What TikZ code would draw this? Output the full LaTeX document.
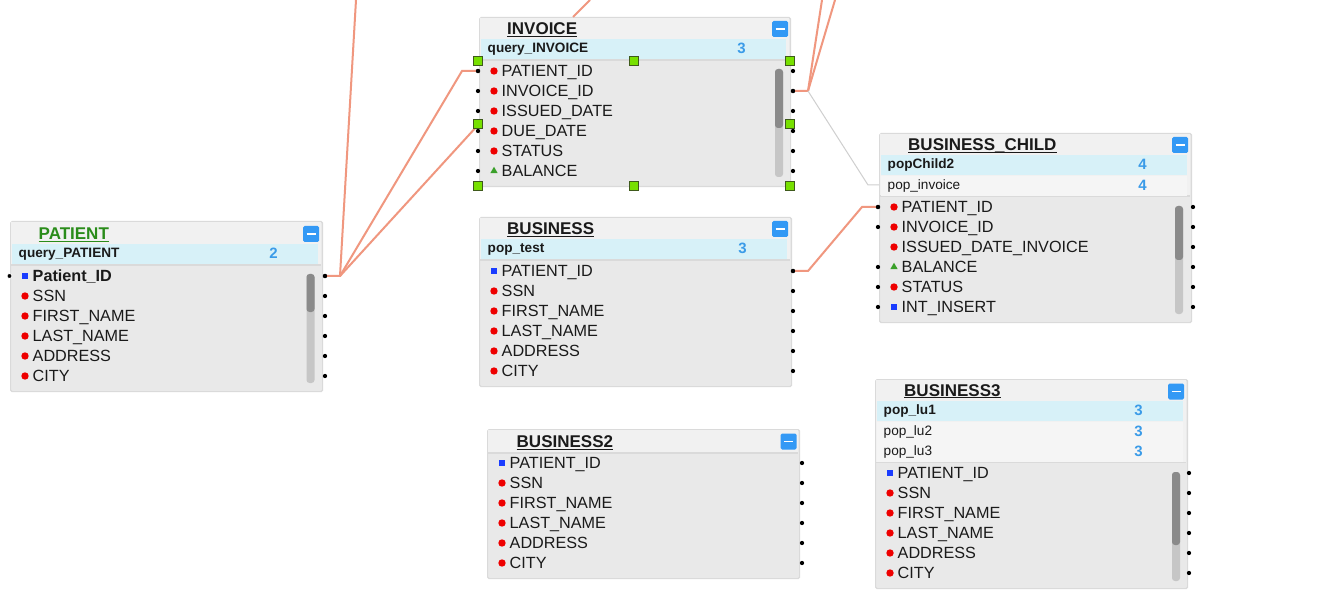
\documentclass[tikz,border=0pt]{standalone}
\usepackage{fontspec}
\setmainfont{Liberation Sans}
\usetikzlibrary{shapes.geometric}
\definecolor{tborder}{HTML}{DADADA}
\definecolor{hdrfill}{HTML}{F1F1F1}
\definecolor{fieldbg}{HTML}{E9E9E9}
\definecolor{qcyan}{HTML}{D7F1F8}
\definecolor{qgray}{HTML}{F5F5F5}
\definecolor{numblue}{HTML}{3A9BE8}
\definecolor{btnblue}{HTML}{3399F5}
\definecolor{sbtrack}{HTML}{C6C6C6}
\definecolor{sbthumb}{HTML}{8A8A8A}
\definecolor{connc}{HTML}{F0977F}
\definecolor{gconnc}{HTML}{CFCFCF}
\definecolor{titlegreen}{HTML}{2A8C1A}
\definecolor{markred}{HTML}{EE0000}
\definecolor{markblue}{HTML}{1A3CFF}
\definecolor{markgreen}{HTML}{3AA02A}
\definecolor{handlefill}{HTML}{77E000}
\definecolor{handledraw}{HTML}{3F5A1C}
\definecolor{txt}{HTML}{1A1A1A}
\tikzset{
 tframe/.style={draw=tborder, line width=1.2pt, fill=fieldbg, rounded corners=1.5pt, inner sep=0pt},
 ttitle/.style={anchor=base west, inner sep=0pt, font=\fontsize{17}{20}\selectfont\bfseries, text=txt},
 qtxt/.style={anchor=base west, inner sep=0pt, font=\fontsize{13.6}{16}\selectfont\bfseries, text=txt},
 qtxtb/.style={anchor=base west, inner sep=0pt, font=\fontsize{13.6}{16}\selectfont, text=txt},
 num/.style={anchor=base, inner sep=0pt, font=\fontsize{15}{18}\selectfont\bfseries, text=numblue},
 fieldtxt/.style={anchor=base west, inner sep=0pt, font=\fontsize{16.2}{19}\selectfont, text=txt},
 mkc/.style={circle, fill=markred, inner sep=0pt, minimum size=7.4pt},
 mks/.style={rectangle, fill=markblue, inner sep=0pt, minimum size=5.8pt},
 mkt/.style={regular polygon, regular polygon sides=3, fill=markgreen, inner sep=0pt, minimum size=8.5pt},
 port/.style={circle, fill=black, inner sep=0pt, minimum size=4.3pt},
 handle/.style={rectangle, fill=handlefill, draw=handledraw, line width=1.1pt, inner sep=0pt, minimum size=8.5pt},
 btn/.style={rectangle, fill=btnblue, inner sep=0pt, minimum size=16pt, rounded corners=1.5pt},
 conn/.style={draw=connc, line width=2pt},
 gconn/.style={draw=gconnc, line width=1pt},
}
% frame: name, l, t, r, b, title-row bottom, fields top
\newcommand\tframe[7]{%
  \node[tframe, anchor=north west, minimum width={#4-#2}, minimum height={#5-#3}] (#1) at (#2,#3) {};
  \fill[hdrfill] ({#2+0.6},{#3+0.6}) rectangle ({#4-0.6},{#7-1.5});
  \fill[tborder] ({#2+0.6},{#7-1.5}) rectangle ({#4-0.6},{#7});
}
% title: name, x, baseline, text, color
\newcommand\ttl[5]{%
  \node[ttitle, text=#5] (#1) at (#2,#3) {#4};
  \draw[#5, line width=1.1pt] ([yshift=-1.6pt]#1.base west) -- ([yshift=-1.6pt]#1.base east);
}
% query row: name, l, r, top, text, number, style, fill
\newcommand\qrow[8]{%
  \fill[#8] ({#2+2},#4) rectangle ({#3-4},{#4+20});
  \node[#7] (#1-t) at ({#2+8.5},{#4+13.8}) {#5};
  \node[num] (#1-n) at ({#3-48.5},{#4+14.6}) {#6};
}
\newcommand\fieldlist[4]{%
  \foreach \mk/\ft [count=\i] in {#4}{%
    \node[mk\mk] (#1-m\i) at ({#2+15},{#3+20*(\i-1)}) {};
    \node[fieldtxt] (#1-f\i) at ({#2+22.5},{#3+20*(\i-1)+5.8}) {\ft};
  }}
\newcommand\portlist[4]{%
  \foreach \i in {#4}{\node[port] (#1\i) at (#2,{#3+20*(\i-1)}) {};}}
\newcommand\scrollbar[5]{%
  \fill[sbtrack, rounded corners=3pt] (#1,#3) rectangle (#2,#4);
  \fill[sbthumb, rounded corners=3pt] (#1,#3) rectangle (#2,#5);}
\newcommand\minusbtn[3]{%
  \node[btn] (#1) at (#2,#3) {};
  \draw[white, line width=1.6pt] ({#2-4.5},#3) -- ({#2+4.5},#3);}
\begin{document}
\begin{tikzpicture}[x=1pt,y=-1pt]
\useasboundingbox[fill=white] (0,0) rectangle (1334,604);

% ---------------- PATIENT
\tframe{patient}{10}{221}{322}{391}{244}{266}
\qrow{patientq}{10}{322}{244}{query\_PATIENT}{2}{qtxt}{qcyan}
\ttl{patientT}{38.5}{240}{PATIENT}{titlegreen}
\minusbtn{patientB}{311}{234}
\scrollbar{306.5}{314.5}{274}{383}{312}
\fieldlist{patient}{10}{276}{s/{\bfseries Patient\_ID},c/SSN,c/FIRST\_NAME,c/LAST\_NAME,c/ADDRESS,c/CITY}
\portlist{patient-r}{325}{276}{1,2,3,4,5,6}
\node[port, draw=white, line width=0.8pt, minimum size=5pt] (patient-l1) at (9.5,276) {};

% ---------------- INVOICE
\tframe{invoice}{479}{17}{790}{186}{39}{61}
\qrow{invoiceq}{479}{790}{39}{query\_INVOICE}{3}{qtxt}{qcyan}
\ttl{invoiceT}{507}{34.5}{INVOICE}{txt}
\minusbtn{invoiceB}{780}{29}
\scrollbar{775}{783}{69}{177}{128}
\fieldlist{invoice}{479}{71}{c/PATIENT\_ID,c/INVOICE\_ID,c/ISSUED\_DATE,c/DUE\_DATE,c/STATUS,t/BALANCE}
\portlist{invoice-r}{793}{71}{1,2,3,4,5,6}
\portlist{invoice-l}{478}{71}{1,2,3,4,5,6}

% ---------------- BUSINESS
\tframe{business}{479}{217}{791}{386}{239}{261}
\qrow{businessq}{479}{791}{239}{pop\_test}{3}{qtxt}{qcyan}
\ttl{businessT}{507}{234.5}{BUSINESS}{txt}
\minusbtn{businessB}{780}{229}
\fieldlist{business}{479}{271}{s/PATIENT\_ID,c/SSN,c/FIRST\_NAME,c/LAST\_NAME,c/ADDRESS,c/CITY}
\portlist{business-r}{793}{271}{1,2,3,4,5,6}

% ---------------- BUSINESS2
\tframe{business2}{487}{429}{799}{578}{452}{453.5}
\ttl{business2T}{516.5}{447.5}{BUSINESS2}{txt}
\minusbtn{business2B}{788.5}{441.5}
\fieldlist{business2}{487}{463}{s/PATIENT\_ID,c/SSN,c/FIRST\_NAME,c/LAST\_NAME,c/ADDRESS,c/CITY}
\portlist{business2-r}{802}{463}{1,2,3,4,5,6}

% ---------------- BUSINESS_CHILD
\tframe{bchild}{879}{133}{1191}{322}{155}{197}
\qrow{bchildq1}{879}{1191}{155}{popChild2}{4}{qtxt}{qcyan}
\qrow{bchildq2}{879}{1191}{176}{pop\_invoice}{4}{qtxtb}{qgray}
\ttl{bchildT}{908}{150.5}{BUSINESS\_CHILD}{txt}
\minusbtn{bchildB}{1180}{145}
\scrollbar{1175}{1183}{206}{314}{260}
\fieldlist{bchild}{879}{207}{c/PATIENT\_ID,c/INVOICE\_ID,c/ISSUED\_DATE\_INVOICE,t/BALANCE,c/STATUS,s/INT\_INSERT}
\portlist{bchild-l}{878}{207}{1,2,4,5,6}
\portlist{bchild-r}{1193}{207}{1,2,3,4,5,6}

% ---------------- BUSINESS3
\tframe{business3}{875}{379}{1187}{588}{400.5}{463}
\qrow{business3q1}{875}{1187}{401}{pop\_lu1}{3}{qtxt}{qcyan}
\qrow{business3q2}{875}{1187}{421.5}{pop\_lu2}{3}{qtxtb}{qgray}
\qrow{business3q3}{875}{1187}{441.5}{pop\_lu3}{3}{qtxtb}{qgray}
\ttl{business3T}{904}{396}{BUSINESS3}{txt}
\minusbtn{business3B}{1176}{391.5}
\scrollbar{1172}{1180}{472}{581}{545}
\fieldlist{business3}{875}{473}{s/PATIENT\_ID,c/SSN,c/FIRST\_NAME,c/LAST\_NAME,c/ADDRESS,c/CITY}
\portlist{business3-r}{1189}{473}{1,2,3,4,5,6}

% ---------------- connectors
\coordinate (pj) at (340,276);
\coordinate (ptop) at (356,0);
\coordinate (pb1) at (462,71);
\coordinate (pend3) at (478.5,124.5);
\coordinate (ij) at (808,91);
\coordinate (itop1) at (822,0);
\coordinate (itop2) at (835,0);
\coordinate (gb) at (868,185);
\coordinate (gend) at (879,185);
\coordinate (bj) at (808,271);
\coordinate (bb) at (862,207);
\coordinate (vtop) at (590,0);
\coordinate (vend) at (573,17);
\draw[conn] (patient-r1.center) -- (pj) -- (ptop);
\draw[conn] (pj) -- (pb1) -- (invoice-l1.center);
\draw[conn] (pj) -- (pend3);
\draw[conn] (invoice-r2.center) -- (ij) -- (itop1);
\draw[conn] (ij) -- (itop2);
\draw[gconn] (ij) -- (gb) -- (gend);
\draw[conn] (business-r1.center) -- (bj) -- (bb) -- (bchild-l1.center);
\draw[conn] (vtop) -- (vend);
\foreach \n in {patient-r1,invoice-l1,invoice-r2,business-r1,bchild-l1}{\node[port] at (\n) {};}

% selection handles on INVOICE
\node[handle] (h1) at (478,61) {};
\node[handle] (h2) at (634,61) {};
\node[handle] (h3) at (790,61) {};
\node[handle] (h4) at (478,124) {};
\node[handle] (h5) at (790,124) {};
\node[handle] (h6) at (478,186) {};
\node[handle] (h7) at (634,186) {};
\node[handle] (h8) at (790,186) {};
\end{tikzpicture}
\end{document}
